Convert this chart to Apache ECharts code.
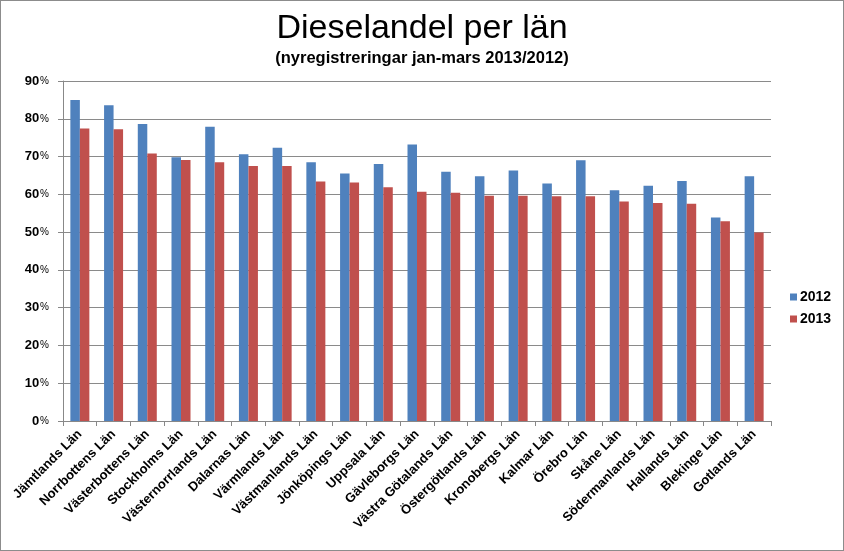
<!DOCTYPE html>
<html>
<head>
<meta charset="utf-8">
<script src="https://cdn.jsdelivr.net/npm/echarts@6/dist/echarts.min.js"></script>
<style>
html,body{margin:0;padding:0;background:#fff;}
#wrap{position:absolute;left:0;top:0;width:842px;height:549px;border:1px solid #8c8c8c;}
#chart{width:842px;height:549px;}
</style>
</head>
<body>
<div id="wrap"><div id="chart"></div></div>
<script>
var categories = ["Jämtlands Län","Norrbottens Län","Västerbottens Län","Stockholms Län","Västernorrlands Län","Dalarnas Län","Värmlands Län","Västmanlands Län","Jönköpings Län","Uppsala Län","Gävleborgs Län","Västra Götalands Län","Östergötlands Län","Kronobergs Län","Kalmar Län","Örebro Län","Skåne Län","Södermanlands Län","Hallands Län","Blekinge Län","Gotlands Län"];
var values2012 = [85.0,83.6,78.6,69.8,77.9,70.6,72.3,68.5,65.5,68.0,73.2,66.0,64.8,66.3,62.9,69.0,61.1,62.3,63.5,53.9,64.8];
var values2013 = [77.4,77.2,70.8,69.1,68.5,67.5,67.5,63.4,63.1,61.9,60.7,60.4,59.6,59.6,59.5,59.5,58.1,57.7,57.5,52.9,49.9];
var seriesNames = ["2012","2013"];
var titleText = "Dieselandel per län";
var subtitleText = "(nyregistreringar jan-mars 2013/2012)";

var chart = echarts.init(document.getElementById('chart'));
chart.setOption({
  backgroundColor: '#fff',
  animation: false,
  textStyle: {fontFamily: 'Liberation Sans, Arial, sans-serif'},
  title: {
    text: titleText,
    subtext: subtitleText,
    left: 'center',
    top: 6,
    itemGap: 4,
    textStyle: {fontSize: 34, fontWeight: 'normal', color: '#000', fontFamily: 'Liberation Sans, Arial, sans-serif'},
    subtextStyle: {fontSize: 16.5, fontWeight: 'bold', color: '#000', fontFamily: 'Liberation Sans, Arial, sans-serif'}
  },
  legend: {
    orient: 'vertical',
    left: 789,
    top: 289,
    padding: 0,
    itemWidth: 7,
    itemHeight: 7,
    itemGap: 8,
    icon: 'rect',
    textStyle: {fontSize: 14, fontWeight: 'bold', color: '#000', padding: [0,0,0,-2]},
    data: seriesNames
  },
  grid: {left: 62, right: 72, top: 80, bottom: 129, containLabel: false},
  xAxis: {
    type: 'category',
    data: categories,
    axisLine: {lineStyle: {color: '#888', width: 1}},
    axisTick: {show: true, length: 5, lineStyle: {color: '#888'}},
    axisLabel: {rotate: 45, interval: 0, fontSize: 13, fontWeight: 'bold', color: '#000', margin: 11}
  },
  yAxis: {
    type: 'value',
    min: 0, max: 90, interval: 10,
    axisLine: {show: true, lineStyle: {color: '#888'}},
    axisTick: {show: true, length: 5, lineStyle: {color: '#888'}},
    splitLine: {lineStyle: {color: '#8a8a8a', width: 1}},
    axisLabel: {
      margin: 14,
      formatter: function(v){ return '{n|' + v + '}{p|%}'; },
      rich: {
        n: {fontSize: 13, fontWeight: 'bold', color: '#000'},
        p: {fontSize: 10, color: '#000', padding: [0,0,0,1]}
      }
    }
  },
  series: [
    {name: seriesNames[0], type: 'bar', data: values2012, barWidth: 9.5, barGap: '0%', itemStyle: {color: '#4f81bd'}},
    {name: seriesNames[1], type: 'bar', data: values2013, barWidth: 9.5, barGap: '0%', itemStyle: {color: '#c0504d'}}
  ]
});
</script>
</body>
</html>
